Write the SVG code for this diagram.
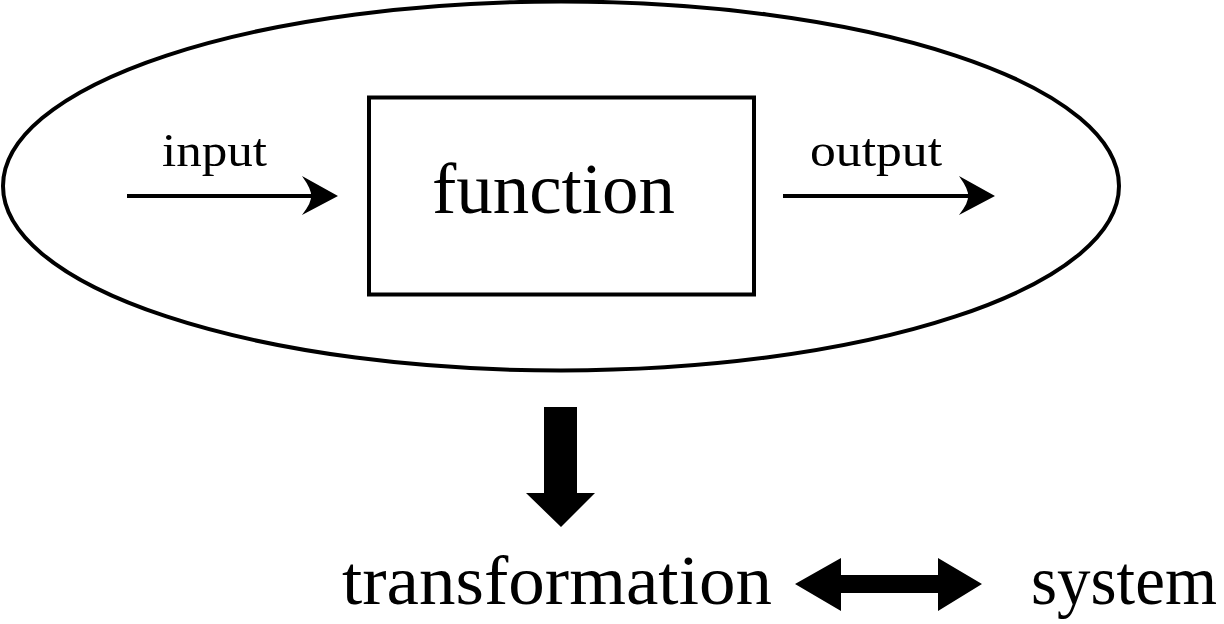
<svg xmlns="http://www.w3.org/2000/svg" width="1224" height="624" viewBox="0 0 1224 624">
<style>
.t{font-family:"Liberation Serif","Times New Roman",serif;fill:#000}
.ln{stroke:#000;stroke-width:4;fill:none}
.solid{fill:#000;stroke:none}
</style>
<rect width="1224" height="624" fill="#fff"/>
<g id="system-ellipse">
<ellipse cx="561" cy="186" rx="558" ry="184.5" class="ln"/>
</g>
<g id="function-node">
<rect x="369" y="97.5" width="385" height="197" class="ln"/>
<text class="t" x="432" y="213" font-size="72" textLength="243" lengthAdjust="spacingAndGlyphs">function</text>
</g>
<g id="input-label">
<text class="t" x="162" y="166" font-size="47" textLength="105" lengthAdjust="spacingAndGlyphs">input</text>
</g>
<g id="output-label">
<text class="t" x="810" y="166" font-size="47" textLength="132" lengthAdjust="spacingAndGlyphs">output</text>
</g>
<g id="transformation-node">
<text class="t" x="342" y="604" font-size="70" textLength="430" lengthAdjust="spacingAndGlyphs">transformation</text>
</g>
<g id="system-node">
<text class="t" x="1031" y="604" font-size="70" textLength="186" lengthAdjust="spacingAndGlyphs">system</text>
</g>
<g id="connectors">
<line x1="127" y1="196" x2="316" y2="196" class="ln" stroke-width="3.5"/>
<path class="solid" d="M338,196 L302,176 Q312,190 311,196 Q312,202 302,215 Z"/>
<line x1="783" y1="196" x2="973" y2="196" class="ln" stroke-width="3.5"/>
<path class="solid" d="M995,196 L959,176 Q969,190 968,196 Q969,202 959,215 Z"/>
<path class="solid" d="M544,407 L577,407 L577,493 L595,493 L561,527 L526,493 L544,493 Z"/>
<path class="solid" d="M795,584 L841,558 L841,575 L938,575 L938,558 L982,584 L938,611 L938,593 L841,593 L841,611 Z"/>
</g>
</svg>
